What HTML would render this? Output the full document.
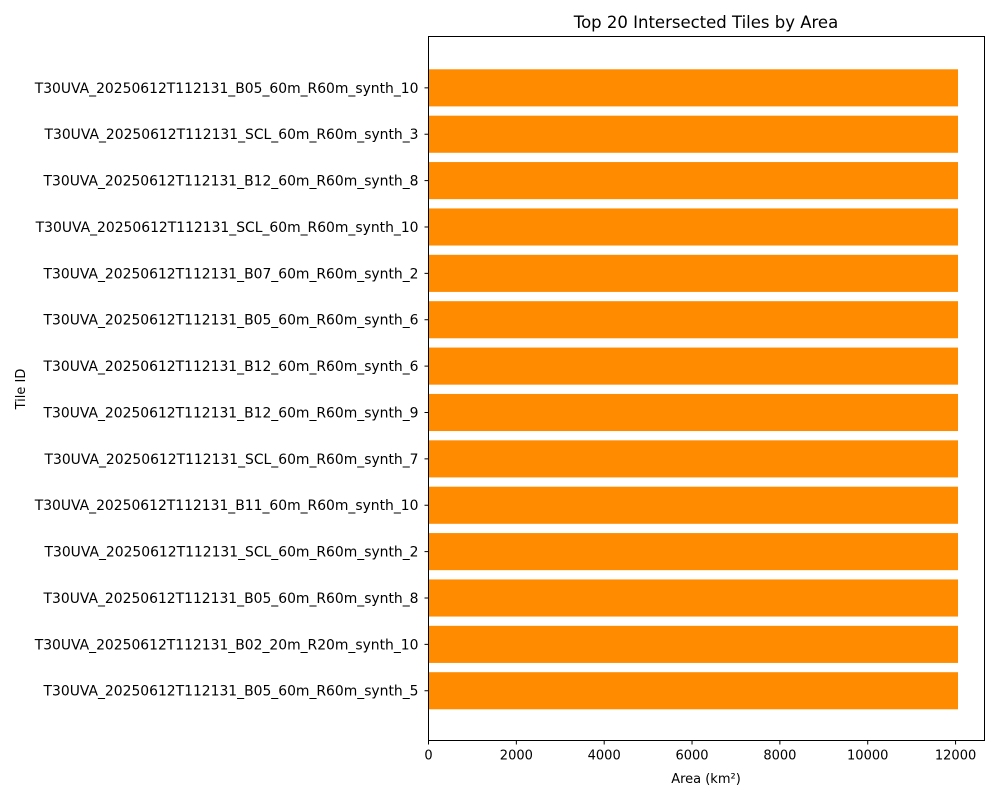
<!DOCTYPE html>
<html><head><meta charset="utf-8"><style>
body{margin:0;background:#fff;font-family:"Liberation Sans","DejaVu Sans",sans-serif;}
svg text{font-family:"DejaVu Sans","Liberation Sans",sans-serif;}
</style></head><body>
<svg id="chart" width="1000" height="800" xmlns="http://www.w3.org/2000/svg">
<rect width="1000" height="800" fill="#fff"/>
<text x="706" y="28" font-size="16.5" text-anchor="middle" fill="#000">Top 20 Intersected Tiles by Area</text>
<text x="706" y="783" font-size="13" text-anchor="middle" fill="#000">Area (km²)</text>
<text x="25" y="389" font-size="13" text-anchor="middle" fill="#000" transform="rotate(-90 25 389)">Tile ID</text>
<g id="bars"></g><g id="xticks"></g><g id="yticks"></g>
<rect x="428.5" y="36.5" width="556" height="704" fill="none" stroke="#000" stroke-width="1"/>
</svg>
<script>
const categories=["T30UVA_20250612T112131_B05_60m_R60m_synth_10","T30UVA_20250612T112131_SCL_60m_R60m_synth_3","T30UVA_20250612T112131_B12_60m_R60m_synth_8","T30UVA_20250612T112131_SCL_60m_R60m_synth_10","T30UVA_20250612T112131_B07_60m_R60m_synth_2","T30UVA_20250612T112131_B05_60m_R60m_synth_6","T30UVA_20250612T112131_B12_60m_R60m_synth_6","T30UVA_20250612T112131_B12_60m_R60m_synth_9","T30UVA_20250612T112131_SCL_60m_R60m_synth_7","T30UVA_20250612T112131_B11_60m_R60m_synth_10","T30UVA_20250612T112131_SCL_60m_R60m_synth_2","T30UVA_20250612T112131_B05_60m_R60m_synth_8","T30UVA_20250612T112131_B02_20m_R20m_synth_10","T30UVA_20250612T112131_B05_60m_R60m_synth_5"];
const values=[12056,12056,12056,12056,12056,12056,12056,12056,12056,12056,12056,12056,12056,12056];
const xTicks=[0,2000,4000,6000,8000,10000,12000];
const NS="http://www.w3.org/2000/svg";
const L=428.5,R=984.5,T=36.5,B=740.5;
const maxV=Math.max(...values)*1.05;
const x=v=>L+(v/maxV)*(R-L);
const n=categories.length;
const lo=-0.4,hi=n-1+0.4,pad=(hi-lo)*0.05;
const y=i=>T+0.8+((i-(lo-pad))/((hi+pad)-(lo-pad)))*(B-T);
const bh=y(0.8)-y(0);
function mk(t,a,p){const e=document.createElementNS(NS,t);for(const k in a)e.setAttribute(k,a[k]);p.appendChild(e);return e;}
const gb=document.getElementById('bars'),gx=document.getElementById('xticks'),gy=document.getElementById('yticks');
categories.forEach((c,i)=>{
 const r=mk('rect',{x:x(0),y:y(i)-bh/2,width:x(values[i])-x(0),height:bh,fill:'#ff8c00'},gb);
 
 
 const tk=mk('line',{x1:L-4,x2:L,y1:y(i),y2:y(i),stroke:'#000'},gy);
 
 
 const t=mk('text',{x:L-10,y:y(i)+5,'font-size':13.9,'text-anchor':'end',fill:'#000'},gy);
 t.textContent=c;
 
 
});
xTicks.forEach(v=>{
 const tk=mk('line',{x1:x(v),x2:x(v),y1:B,y2:B+4,stroke:'#000'},gx);
 
 
 const t=mk('text',{x:x(v),y:B+19,'font-size':13,'text-anchor':'middle',fill:'#000'},gx);
 t.textContent=v;
 
 
});
</script>
</body></html>
